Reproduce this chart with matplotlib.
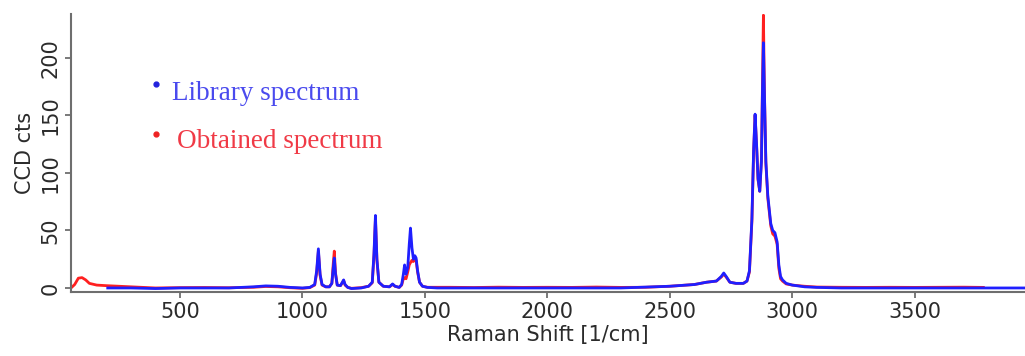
import matplotlib
matplotlib.use("Agg")
import matplotlib.pyplot as plt
from matplotlib.lines import Line2D

# ---------------- data ----------------
library_x = [205, 300, 400, 500, 600, 700, 800, 850, 900, 950, 1000, 1030, 1050,
             1058, 1065, 1072, 1080, 1095, 1110, 1120, 1126, 1130, 1135, 1142,
             1155, 1163, 1168, 1174, 1185, 1200, 1240, 1270, 1285, 1292, 1298,
             1304, 1312, 1330, 1355, 1368, 1378, 1395, 1405, 1412, 1417, 1423,
             1430, 1436, 1441, 1447, 1453, 1459, 1464, 1470, 1478, 1490, 1510,
             1550, 1700, 1900, 2100, 2300, 2500, 2600, 2650, 2690, 2710, 2720,
             2730, 2745, 2770, 2800, 2815, 2825, 2835, 2842, 2848, 2854, 2860,
             2867, 2874, 2878, 2882, 2886, 2892, 2900, 2912, 2920, 2929, 2938,
             2945, 2952, 2960, 2975, 3000, 3050, 3100, 3200, 3400, 3600, 3800, 3960]
library_y = [0, 0, -0.5, 0, 0, 0, 1, 1.8, 1.5, 0.5, 0, 0.5, 3,
             15, 34, 12, 3, 1, 1, 4, 18, 26, 12, 2.5,
             2, 5, 7, 3, 0.5, -0.5, 0, 1.5, 5, 30, 63,
             25, 5, 1.5, 1, 3.5, 1.5, 0.5, 3, 12, 20, 12,
             18, 38, 52, 35, 25, 28, 26, 15, 5, 1.5, 0.5,
             0, 0, 0, 0, 0, 1.5, 3, 5, 6, 10, 13,
             10, 5, 4, 4, 6, 15, 60, 120, 151, 125, 95,
             84, 110, 170, 213, 170, 110, 80, 56, 50, 48, 40,
             20, 10, 7, 4, 2.5, 1, 0.5, 0, 0, 0, 0, 0]

obtained_x = [55, 70, 85, 100, 115, 130, 160, 200, 250, 300, 350, 400, 500, 600,
              700, 800, 850, 900, 950, 1000, 1030, 1050, 1058, 1065, 1072, 1080,
              1095, 1110, 1120, 1126, 1130, 1135, 1142, 1155, 1163, 1168, 1174,
              1185, 1200, 1240, 1270, 1285, 1292, 1298, 1304, 1312, 1330, 1355,
              1368, 1378, 1395, 1405, 1412, 1417, 1423, 1430, 1436, 1441, 1447,
              1453, 1459, 1464, 1470, 1478, 1490, 1510, 1600, 1700, 1800, 1900,
              2000, 2100, 2200, 2300, 2400, 2500, 2600, 2650, 2690, 2710, 2720,
              2730, 2745, 2770, 2800, 2815, 2825, 2835, 2842, 2848, 2854, 2860,
              2867, 2874, 2878, 2882, 2886, 2892, 2900, 2912, 2920, 2929, 2938,
              2945, 2952, 2960, 2975, 3000, 3050, 3100, 3200, 3300, 3400, 3500,
              3600, 3700, 3780]
obtained_y = [0, 3, 8.5, 9, 7, 4, 2.5, 2, 1.5, 1, 0.5, 0, 0.3, 0.4,
              0.2, 0.6, 1.3, 1.0, 0.2, -0.3, 0.3, 2.5, 13, 32, 11, 2.5,
              1, 1, 4, 22, 32, 13, 2.5, 2, 4.5, 6.5, 2.5,
              0.5, -0.3, 0.3, 1.5, 4.5, 28, 60, 24, 5, 1.5, 1,
              3, 1.5, 0.5, 2.5, 8, 9, 8, 14, 20, 22, 24,
              23, 26, 24, 14, 5, 1.5, 0.6, 0.6, 0.4, 0.7, 0.5,
              0.6, 0.5, 0.8, 0.5, 0.6, 1.5, 3, 5, 6, 9.5, 12,
              9.5, 5, 4, 4, 6, 14, 58, 118, 150, 124, 94,
              84, 112, 175, 237, 172, 108, 78, 54, 47, 45, 38,
              17, 8, 6, 3.5, 2.5, 1.5, 0.8, 0.6, 0.5, 0.6, 0.5,
              0.6, 0.7, 0.5]

x_ticks = [500, 1000, 1500, 2000, 2500, 3000, 3500]
y_ticks = [0, 50, 100, 150, 200]

# ---------------- figure ----------------
fig = plt.figure(figsize=(10.25, 3.56), dpi=100)
ax = fig.add_axes([71 / 1025, 64 / 356, 1 - 71 / 1025, (292 - 14) / 356])

ax.plot(obtained_x, obtained_y, color="#ff2020", lw=2.0, solid_joinstyle="round")
ax.plot(library_x, library_y, color="#1f1fff", lw=2.0, solid_joinstyle="round")

ax.set_xlim(55, 3950)
ax.set_ylim(-3.5, 238)
ax.set_xticks(x_ticks)
ax.set_yticks(y_ticks)

for s in ("top", "right"):
    ax.spines[s].set_visible(False)
for s in ("left", "bottom"):
    ax.spines[s].set_color("#6e6e6e")
    ax.spines[s].set_linewidth(1.5)

ax.tick_params(axis="both", direction="out", length=4.5, width=1.3,
               color="#6e6e6e", labelsize=15, labelcolor="#2b2b2b", pad=3)
for lab in ax.get_yticklabels():
    lab.set_rotation(90)
    lab.set_va("center")

ax.set_xlabel("Raman Shift [1/cm]", fontsize=15, color="#2b2b2b", labelpad=2)
ax.set_ylabel("CCD cts", fontsize=15, color="#2b2b2b", labelpad=4)

# legend-like annotations
fig.text(172 / 1025, 1 - 100 / 356, "Library spectrum", fontsize=19.5,
         family="Liberation Serif", color="#4a4aee", va="baseline", ha="left")
fig.text(177 / 1025, 1 - 148 / 356, "Obtained spectrum", fontsize=19.5,
         family="Liberation Serif", color="#f03a46", va="baseline", ha="left")
fig.add_artist(Line2D([156 / 1025], [1 - 84 / 356], marker="o", markersize=3.5,
                      color="#2222dd", linestyle="none", transform=fig.transFigure))
fig.add_artist(Line2D([156 / 1025], [1 - 134 / 356], marker="o", markersize=3.5,
                      color="#ee2222", linestyle="none", transform=fig.transFigure))

fig.savefig("out.png", dpi=100)
